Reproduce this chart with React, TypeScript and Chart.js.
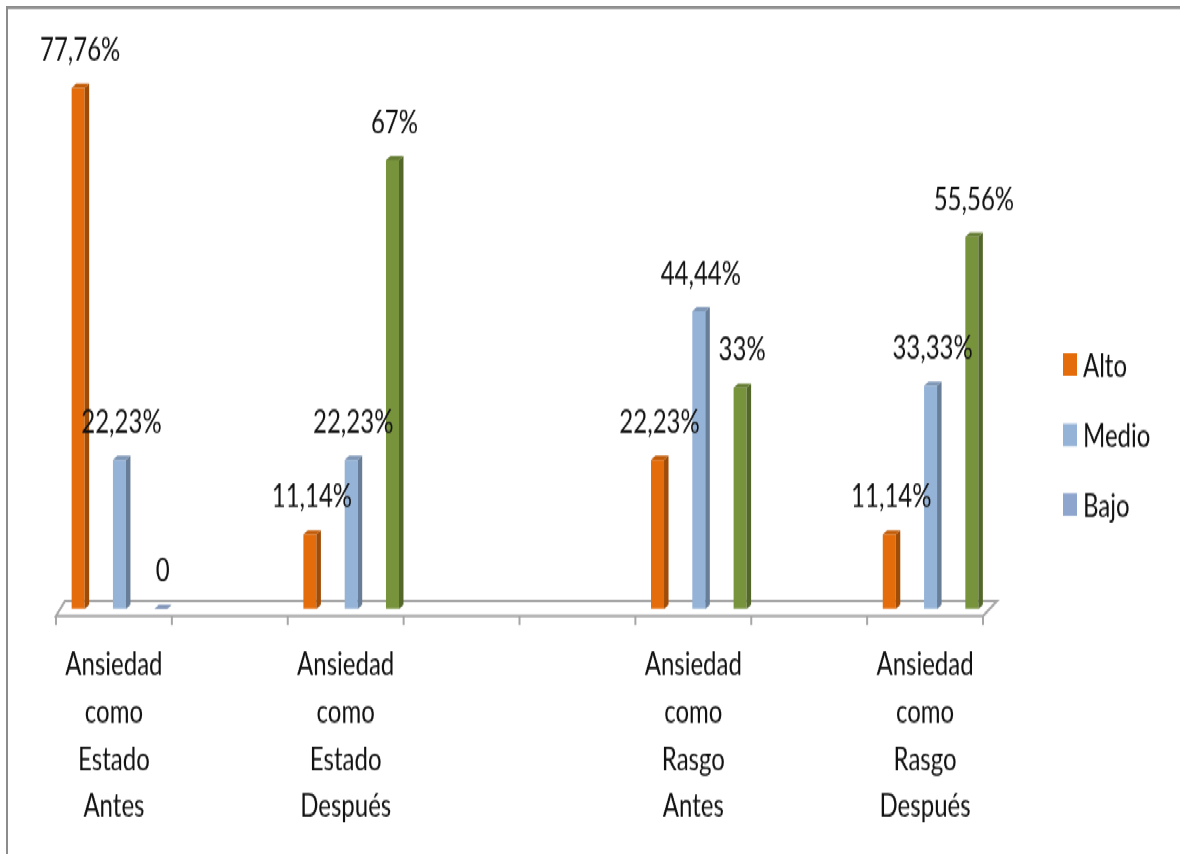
import React, { useEffect, useRef } from 'react';
import { Chart, registerables } from 'chart.js';

Chart.register(...registerables);

// ---- data ----
const categories: string[][] = [
  ['Ansiedad', 'como', 'Estado', 'Antes'],
  [''],
  ['Ansiedad', 'como', 'Estado', 'Después'],
  [''],
  [''],
  ['Ansiedad', 'como', 'Rasgo', 'Antes'],
  [''],
  ['Ansiedad', 'como', 'Rasgo', 'Después'],
];
const seriesNames = ['Alto', 'Medio', 'Bajo'];
const alto = [77.76, null, 11.14, null, null, 22.23, null, 11.14];
const medio = [22.23, null, 22.23, null, null, 44.44, null, 33.33];
const bajo = [0, null, 67, null, null, 33, null, 55.56];

// ---- styles ----
const ORANGE = '#E46C0A';
const BLUE = '#95B3D7';
const PERI = '#8EA5CE';
const GREEN = '#77933C';
const bajoColors = [PERI, GREEN, GREEN, GREEN, GREEN, GREEN, GREEN, GREEN];
const legendColors = [ORANGE, BLUE, PERI];
const FONT = 'Lato, "Open Sans", "DejaVu Sans", sans-serif';
const TEXT = '#111111';
const S = 1.4; // vertical stretch of the original picture

function shade(hex: string, f: number): string {
  const n = parseInt(hex.slice(1), 16);
  const r = (n >> 16) & 255, g = (n >> 8) & 255, b = n & 255;
  const m = (c: number) => Math.max(0, Math.min(255, Math.round(f >= 1 ? c + (255 - c) * (f - 1) : c * f)));
  return `rgb(${m(r)},${m(g)},${m(b)})`;
}

function fmt(v: number): string {
  if (v === 0) return '0';
  if (Number.isInteger(v)) return `${v}%`;
  return v.toFixed(2).replace('.', ',') + '%';
}

const floorPlugin = {
  id: 'floor3d',
  beforeDatasetsDraw(chart: any) {
    const { ctx, chartArea } = chart;
    const { left, right, bottom } = chartArea;
    const n = categories.length;
    const fl = left - 5.5, fr = right - 5.5;
    const catW = (fr - fl) / n;
    const fy = bottom + 5;
    const by = bottom - 5.7;
    ctx.save();
    ctx.strokeStyle = '#A6A6A6';
    ctx.lineWidth = 2;
    ctx.beginPath();
    ctx.moveTo(fl, fy);
    ctx.lineTo(fr, fy);
    ctx.lineTo(fr + 14, by);
    ctx.lineTo(fl + 9, by);
    ctx.closePath();
    ctx.stroke();
    ctx.beginPath();
    for (let i = 0; i <= n; i++) {
      const x = fl + i * catW;
      ctx.moveTo(x, fy);
      ctx.lineTo(x, fy + 6.5);
    }
    ctx.stroke();
    ctx.restore();
  },
};

const bar3dPlugin = {
  id: 'bar3d',
  afterDatasetsDraw(chart: any) {
    const { ctx } = chart;
    const dx = 4.5, dy = 3;
    ctx.save();
    chart.data.datasets.forEach((ds: any, di: number) => {
      const meta = chart.getDatasetMeta(di);
      meta.data.forEach((el: any, i: number) => {
        const v = ds.data[i];
        if (v === null || v === undefined) return;
        const { x, y, base, width } = el.getProps(['x', 'y', 'base', 'width'], true);
        const col = el.options.backgroundColor as string;
        const l = x - width / 2, r = x + width / 2;
        // side face
        ctx.fillStyle = shade(col, 0.7);
        ctx.beginPath();
        ctx.moveTo(r, y);
        ctx.lineTo(r + dx, y - dy);
        ctx.lineTo(r + dx, base - dy);
        ctx.lineTo(r, base);
        ctx.closePath();
        ctx.fill();
        // top face
        ctx.fillStyle = v === 0 ? shade(col, 0.9) : shade(col, 0.85);
        ctx.beginPath();
        ctx.moveTo(l, y);
        ctx.lineTo(l + dx, y - dy);
        ctx.lineTo(r + dx, y - dy);
        ctx.lineTo(r, y);
        ctx.closePath();
        ctx.fill();
      });
    });
    ctx.restore();
  },
  afterDraw(chart: any) {
    const { ctx } = chart;
    ctx.save();
    ctx.font = `24px ${FONT}`;
    ctx.fillStyle = TEXT;
    ctx.textAlign = 'center';
    ctx.textBaseline = 'middle';
    chart.data.datasets.forEach((ds: any, di: number) => {
      const meta = chart.getDatasetMeta(di);
      meta.data.forEach((el: any, i: number) => {
        const v = ds.data[i];
        if (v === null || v === undefined) return;
        const { x, y } = el.getProps(['x', 'y'], true);
        ctx.fillText(fmt(v), x + 2, y - 27);
      });
    });
    // legend
    const lx = 1055, ys = [254, 304.4, 354.1];
    ctx.textAlign = 'left';
    seriesNames.forEach((name, i) => {
      ctx.fillStyle = legendColors[i];
      ctx.fillRect(lx, ys[i] - 8, 14, 16);
      ctx.fillStyle = TEXT;
      ctx.fillText(name, lx + 20, ys[i] + 1);
    });
    ctx.restore();
  },
};

export default function App() {
  const ref = useRef<HTMLCanvasElement>(null);
  useEffect(() => {
    if (!ref.current) return;
    const chart = new Chart(ref.current, {
      type: 'bar',
      data: {
        labels: categories,
        datasets: [
          { label: seriesNames[0], data: alto, backgroundColor: ORANGE },
          { label: seriesNames[1], data: medio, backgroundColor: BLUE },
          { label: seriesNames[2], data: bajo, backgroundColor: bajoColors },
        ],
      },
      options: {
        responsive: false,
        animation: false,
        devicePixelRatio: 1,
        categoryPercentage: 1.069,
        barPercentage: 0.315,
        layout: { padding: { top: 45.8, left: 53.5, right: 191.5, bottom: 0 } },
        plugins: { legend: { display: false }, tooltip: { enabled: false } },
        scales: {
          x: {
            offset: true,
            grid: { display: false, drawTicks: false },
            border: { display: false },
            ticks: {
              autoSkip: false,
              maxRotation: 0,
              minRotation: 0,
              padding: 23.2,
              labelOffset: -5.5,
              color: TEXT,
              font: { family: FONT, size: 24, lineHeight: 1.4 },
            },
            afterFit: (s: any) => { s.height = 175.3; },
          },
          y: { display: false, min: 0, max: 80 },
        },
      },
      plugins: [floorPlugin, bar3dPlugin],
    } as any);
    return () => chart.destroy();
  }, []);
  return (
    <div
      style={{
        position: 'absolute',
        left: 6,
        top: 6,
        width: 1172,
        height: 604,
        borderTop: '2px solid #8C8C8C',
        borderLeft: '2px solid #8C8C8C',
        transform: `scaleY(${S})`,
        transformOrigin: '0 0',
        background: '#fff',
      }}
    >
      <canvas ref={ref} width={1172} height={604} style={{ display: 'block', width: 1172, height: 604 }} />
    </div>
  );
}
